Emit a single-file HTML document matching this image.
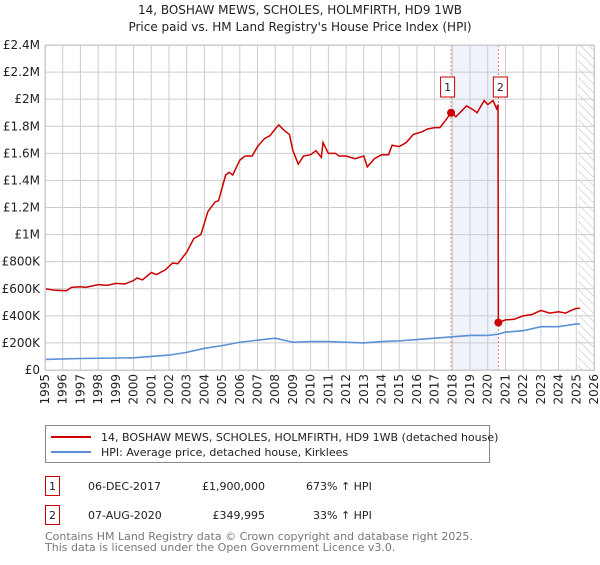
<!DOCTYPE html>
<html><head><meta charset="utf-8"><style>
body{margin:0;background:#fff;}
svg text{font-family:"DejaVu Sans","Liberation Sans",sans-serif;}
</style></head><body>
<svg id="c" width="600" height="560" xmlns="http://www.w3.org/2000/svg">
<defs><pattern id="hatch" width="6" height="6" patternUnits="userSpaceOnUse" patternTransform="rotate(-45)"><line x1="0" y1="0" x2="0" y2="6" stroke="#bbb" stroke-width="1"/></pattern></defs>
<text x="300" y="14" text-anchor="middle" font-size="12" fill="#222">14, BOSHAW MEWS, SCHOLES, HOLMFIRTH, HD9 1WB</text>
<text x="300" y="31" text-anchor="middle" font-size="12" fill="#222">Price paid vs. HM Land Registry's House Price Index (HPI)</text>
<g id="plot"></g>
<g>
<rect x="45.5" y="425.5" width="444" height="37" fill="#fff" stroke="#888"/>
<line x1="51" y1="437" x2="91" y2="437" stroke="#cc0000" stroke-width="2"/>
<text x="101" y="441" font-size="11" fill="#222">14, BOSHAW MEWS, SCHOLES, HOLMFIRTH, HD9 1WB (detached house)</text>
<line x1="51" y1="452" x2="91" y2="452" stroke="#5b8fd6" stroke-width="2"/>
<text x="101" y="456" font-size="11" fill="#222">HPI: Average price, detached house, Kirklees</text>
</g>
<g font-size="11" fill="#222">
<rect x="45.5" y="476.5" width="14" height="19" fill="#fff" stroke="#cc0000"/>
<text x="52.5" y="490" text-anchor="middle">1</text>
<text x="88" y="490">06-DEC-2017</text>
<text x="265" y="490" text-anchor="end">£1,900,000</text>
<text x="306" y="490">673% ↑ HPI</text>
<rect x="45.5" y="505.5" width="14" height="19" fill="#fff" stroke="#cc0000"/>
<text x="52.5" y="519" text-anchor="middle">2</text>
<text x="88" y="519">07-AUG-2020</text>
<text x="265" y="519" text-anchor="end">£349,995</text>
<text x="313" y="519">33% ↑ HPI</text>
</g>
<text x="45" y="540" font-size="11" fill="#777">Contains HM Land Registry data © Crown copyright and database right 2025.</text>
<text x="45" y="551" font-size="11" fill="#777">This data is licensed under the Open Government Licence v3.0.</text>
</svg>
<script>
const yTicks=[0,200000,400000,600000,800000,1000000,1200000,1400000,1600000,1800000,2000000,2200000,2400000];
const yTickLabels=["£0","£200K","£400K","£600K","£800K","£1M","£1.2M","£1.4M","£1.6M","£1.8M","£2M","£2.2M","£2.4M"];
const years=[1995,1996,1997,1998,1999,2000,2001,2002,2003,2004,2005,2006,2007,2008,2009,2010,2011,2012,2013,2014,2015,2016,2017,2018,2019,2020,2021,2022,2023,2024,2025,2026];
const propT=[1995,1995.5,1996.2,1996.5,1997,1997.3,1998,1998.5,1999,1999.5,2000,2000.2,2000.5,2001,2001.3,2001.8,2002.2,2002.5,2003,2003.4,2003.8,2004.2,2004.6,2004.8,2005.2,2005.4,2005.6,2006,2006.3,2006.7,2007,2007.4,2007.7,2008,2008.2,2008.5,2008.8,2009,2009.3,2009.6,2010,2010.3,2010.6,2010.7,2011,2011.4,2011.6,2012,2012.5,2013,2013.2,2013.6,2014,2014.4,2014.6,2015,2015.4,2015.8,2016.3,2016.6,2017,2017.3,2017.6,2017.93,2018.2,2018.8,2019.2,2019.4,2019.8,2020,2020.3,2020.5,2020.58,2020.6,2021,2021.5,2022,2022.5,2023,2023.5,2024,2024.4,2024.7,2025,2025.2];
const propV=[600,590,585,610,615,610,630,625,640,635,660,680,665,720,705,740,790,785,870,970,1000,1170,1240,1250,1440,1460,1440,1550,1580,1580,1650,1710,1730,1780,1810,1770,1740,1620,1520,1580,1590,1620,1570,1680,1600,1600,1580,1580,1560,1580,1500,1560,1590,1590,1660,1650,1680,1740,1760,1780,1790,1790,1840,1900,1870,1950,1920,1900,1990,1960,1990,1930,1960,350,370,375,400,410,440,420,430,420,440,455,455];
const hpiT=[1995,1997,2000,2001,2002,2003,2004,2005,2006,2007,2008,2009,2010,2011,2012,2013,2014,2015,2016,2017,2018,2019,2020,2020.6,2021,2022,2023,2024,2025,2025.2];
const hpiV=[78,85,90,100,110,130,160,180,205,220,235,205,210,210,205,200,210,215,225,235,245,255,255,265,280,290,320,320,340,340];
const saleT=[2017.93,2020.6];
const saleV=[1900,349.995];
const saleLabels=["1","2"];
const NS="http://www.w3.org/2000/svg";
const X0=45,X1=594,Y0=370,Y1=45;
const xs=t=>X0+(t-1995)/(2026-1995)*(X1-X0);
const ys=v=>Y0-v/2400000*(Y0-Y1);
const g=document.getElementById('plot');
function mk(tag,attrs,parent){const e=document.createElementNS(NS,tag);for(const k in attrs)e.setAttribute(k,attrs[k]);(parent||g).appendChild(e);return e;}
let e;
e=mk('rect',{x:xs(saleT[0]),y:Y1,width:xs(saleT[1])-xs(saleT[0]),height:Y0-Y1,fill:'#eef3fc'});


e=mk('rect',{x:xs(2025.1),y:Y1,width:X1-xs(2025.1),height:Y0-Y1,fill:'url(#hatch)'});


yTicks.forEach((v,i)=>{
 e=mk('line',{x1:X0,x2:X1,y1:ys(v),y2:ys(v),stroke:'#ccc'});
 
 
 e=mk('text',{x:40,y:ys(v)+4,'text-anchor':'end','font-size':12,fill:'#222'});
 e.textContent=yTickLabels[i];
 
 
});
years.forEach(yr=>{
 e=mk('line',{x1:xs(yr),x2:xs(yr),y1:Y1,y2:Y0,stroke:'#ccc'});
 
 
 const x=xs(yr);
 e=mk('text',{x:x+4,y:374,'text-anchor':'end','font-size':12,fill:'#222',transform:`rotate(-90 ${x+4} 374)`});
 e.textContent=yr;
 
 
});
saleT.forEach(t=>{
 e=mk('line',{x1:xs(t),x2:xs(t),y1:Y1,y2:Y0,stroke:'#e06060','stroke-dasharray':'2,2','stroke-width':0.8});
 
 
});
e=mk('polyline',{points:hpiT.map((t,i)=>xs(t)+','+ys(hpiV[i]*1000)).join(' '),fill:'none',stroke:'#5b8fd6','stroke-width':1.6});


e=mk('polyline',{points:propT.map((t,i)=>xs(t)+','+ys(propV[i]*1000)).join(' '),fill:'none',stroke:'#cc0000','stroke-width':1.5});


saleT.forEach((t,i)=>{
 e=mk('circle',{cx:xs(t),cy:ys(saleV[i]*1000),r:4,fill:'#cc0000'});
 
 
 const bx=xs(t)+(i===0?-3.5:2);
 e=mk('rect',{x:bx-7,y:77,width:14,height:20,fill:'#fff',stroke:'#cc0000'});
 
 
 e=mk('text',{x:bx,y:91,'text-anchor':'middle','font-size':11,fill:'#222'});
 e.textContent=saleLabels[i];
 
 
});
e=mk('rect',{x:X0+0.5,y:Y1+0.5,width:X1-X0,height:Y0-Y1,fill:'none',stroke:'#ccc'});


</script>
</body></html>
